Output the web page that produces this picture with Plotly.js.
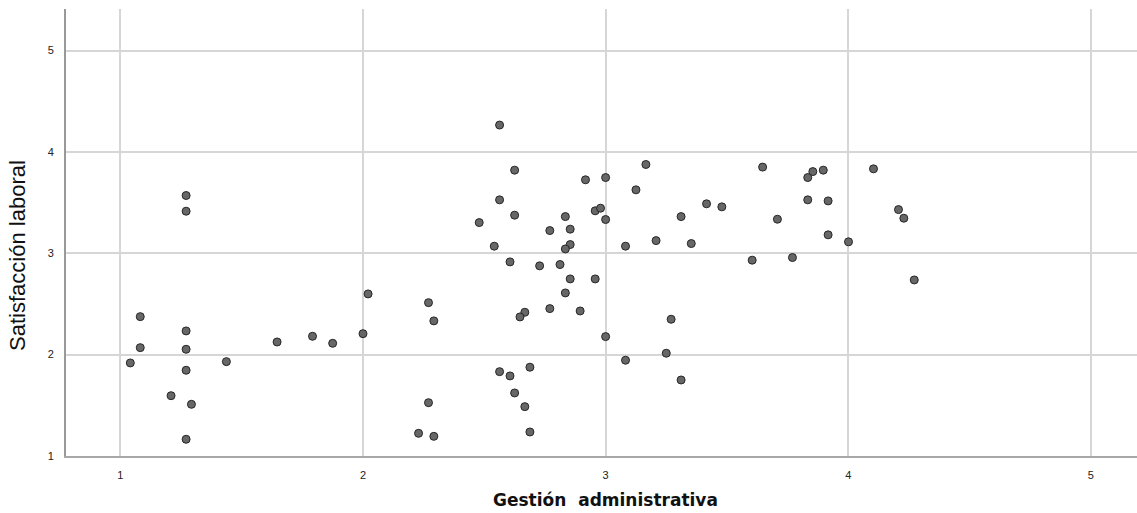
<!DOCTYPE html>
<html>
<head>
<meta charset="utf-8">
<script src="https://cdn.plot.ly/plotly-3.0.1.min.js"></script>
<style>html,body{margin:0;padding:0;background:#fff;}#chart{width:1137px;height:513px;}</style>
</head>
<body>
<div id="chart"></div>
<script>
// Gestión administrativa (x) vs Satisfacción laboral (y)
const gestion = [
  1.271, 1.271, 1.082, 1.271, 1.082, 1.271, 1.041, 1.437, 1.271, 1.209,
  1.293, 1.271, 1.646, 1.792, 1.875, 2.000, 2.021, 2.270, 2.292, 2.270,
  2.229, 2.292, 2.563, 2.625, 2.917, 3.000, 3.166, 3.125, 2.563, 2.625,
  2.479, 2.834, 2.854, 2.770, 2.957, 2.979, 3.000, 3.311, 2.854, 2.834,
  2.541, 3.082, 3.208, 3.353, 2.606, 2.728, 2.812, 2.854, 2.957, 2.834,
  2.770, 2.895, 2.667, 2.647, 3.270, 3.000, 3.082, 3.250, 3.311, 2.563,
  2.606, 2.688, 2.625, 2.667, 2.688, 3.647, 3.854, 3.897, 3.833, 4.104,
  3.416, 3.479, 3.708, 3.833, 3.917, 4.207, 4.229, 3.917, 4.001, 3.604,
  3.770, 4.272
];
const satisfaccion = [
  3.570, 3.415, 2.375, 2.234, 2.069, 2.053, 1.918, 1.931, 1.846, 1.595,
  1.510, 1.165, 2.125, 2.181, 2.112, 2.207, 2.599, 2.513, 2.333, 1.526,
  1.224, 1.194, 4.265, 3.820, 3.725, 3.747, 3.876, 3.626, 3.527, 3.376,
  3.303, 3.362, 3.238, 3.224, 3.419, 3.445, 3.333, 3.362, 3.086, 3.043,
  3.070, 3.070, 3.125, 3.096, 2.915, 2.876, 2.889, 2.747, 2.747, 2.609,
  2.454, 2.431, 2.418, 2.372, 2.349, 2.178, 1.945, 2.014, 1.750, 1.832,
  1.790, 1.876, 1.622, 1.487, 1.237, 3.850, 3.806, 3.820, 3.747, 3.833,
  3.488, 3.458, 3.336, 3.527, 3.517, 3.431, 3.346, 3.182, 3.113, 2.932,
  2.958, 2.737
];
const xTicks = [1, 2, 3, 4, 5];
const yTicks = [1, 2, 3, 4, 5];
const xTitle = "Gestión  administrativa";
const yTitle = "Satisfacción laboral";

const trace = {
  type: "scatter",
  mode: "markers",
  x: gestion,
  y: satisfaccion,
  marker: {size: 8, color: "#676767", line: {color: "#262626", width: 1}},
  hoverinfo: "x+y"
};

const layout = {
  width: 1137,
  height: 513,
  margin: {l: 66, r: 0, t: 9, b: 57},
  paper_bgcolor: "#ffffff",
  plot_bgcolor: "#ffffff",
  showlegend: false,
  xaxis: {
    range: [0.776, 5.19],
    tickvals: xTicks,
    ticktext: xTicks.map(String),
    showgrid: true,
    gridcolor: "#d6d6d6",
    gridwidth: 2,
    zeroline: false,
    showline: true,
    linecolor: "#a8a8a8",
    linewidth: 2,
    ticks: "",
    ticklabelstandoff: 8,
    tickfont: {family: "Liberation Sans, Arial, sans-serif", size: 11, color: "#222"},
    automargin: false,
    fixedrange: true
  },
  yaxis: {
    range: [1, 5.41],
    tickvals: yTicks,
    ticktext: yTicks.map(String),
    showgrid: true,
    gridcolor: "#d6d6d6",
    gridwidth: 2,
    zeroline: false,
    showline: true,
    linecolor: "#999999",
    linewidth: 2,
    ticks: "",
    ticklabelstandoff: 8,
    tickfont: {family: "Liberation Sans, Arial, sans-serif", size: 11, color: "#222"},
    automargin: false,
    fixedrange: true
  },
  annotations: [
    {text: xTitle, xref: "x", yref: "paper", x: 3, y: -0.098, xanchor: "center", yanchor: "middle",
     showarrow: false, font: {family: "DejaVu Sans, sans-serif", size: 17, color: "#111", weight: "bold"}},
    {text: yTitle, xref: "paper", yref: "y", x: -0.0448, y: 2.974, xanchor: "center", yanchor: "middle",
     textangle: -90, showarrow: false,
     font: {family: "Liberation Sans, Arial, sans-serif", size: 22, color: "#111"}}
  ]
};

Plotly.newPlot("chart", [trace], layout, {displayModeBar: false, staticPlot: true});
</script>
</body>
</html>
